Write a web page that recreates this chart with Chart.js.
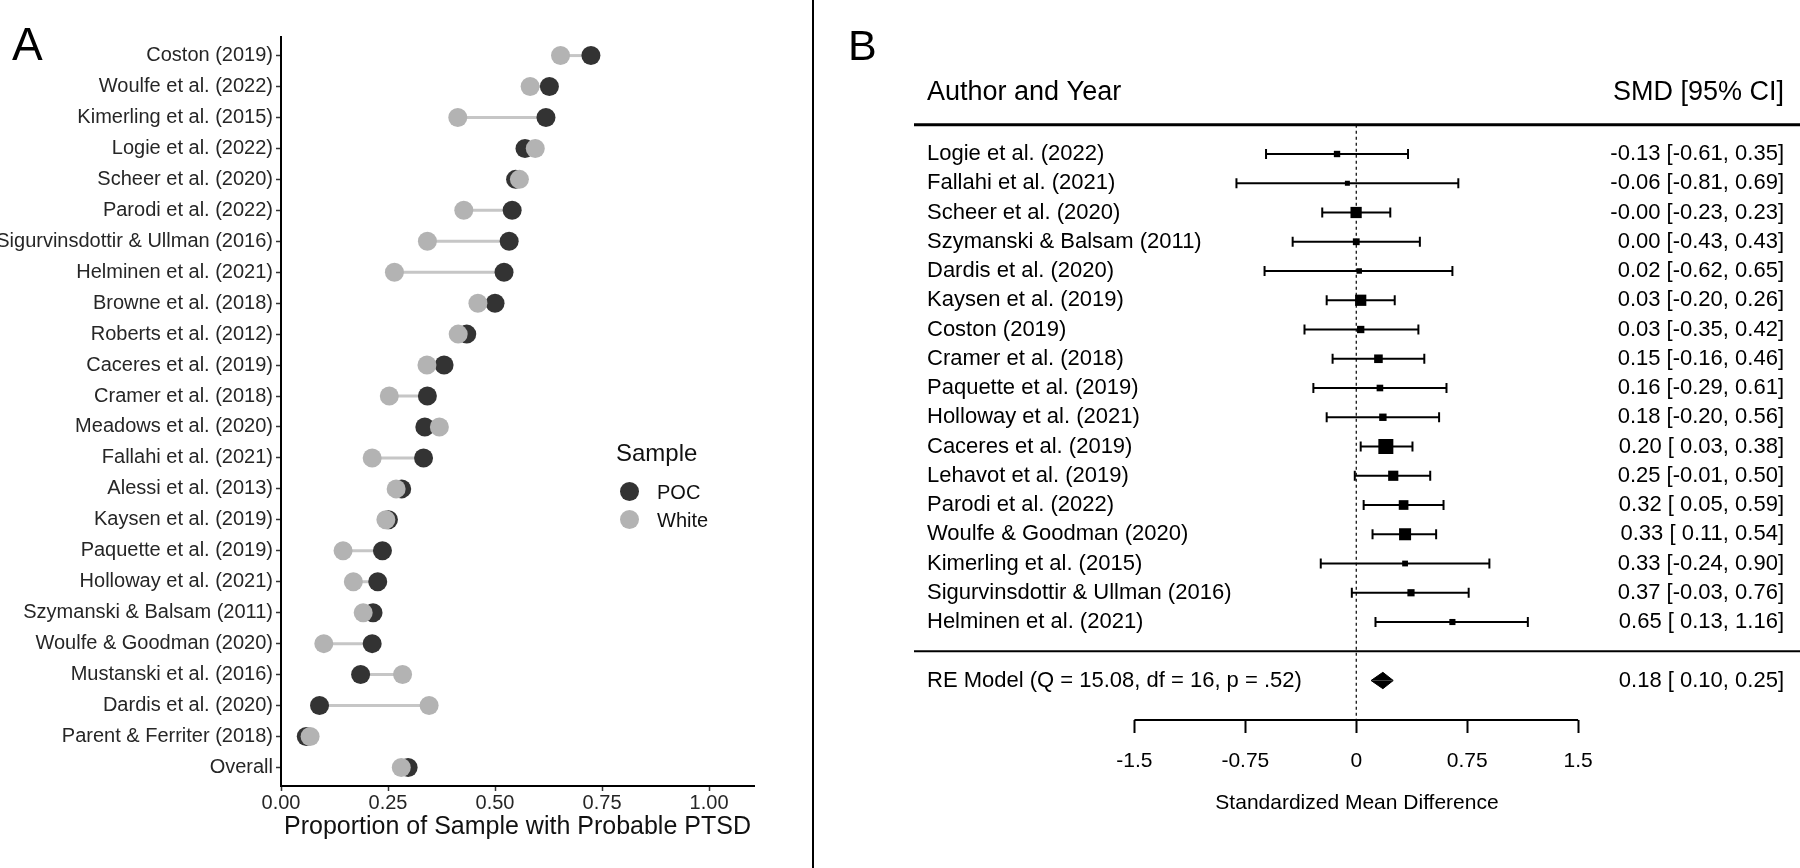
<!DOCTYPE html>
<html>
<head>
<meta charset="utf-8">
<script src="https://cdn.jsdelivr.net/npm/chart.js@4.4.1/dist/chart.umd.min.js"></script>
<style>
  html, body { margin:0; padding:0; background:#fff; width:1800px; height:868px; overflow:hidden; position:relative;
    font-family:'Liberation Sans', Arial, sans-serif; color:#000; }
  #ca { position:absolute; left:0; top:0; }
  #cb { position:absolute; left:816px; top:0; }
  #divider { position:absolute; left:812px; top:0; width:2px; height:868px; background:#000; }
  .panel { position:absolute; font-weight:normal; }
  .legt { position:absolute; font-size:24px; line-height:28px; color:#111; }
  .legl { position:absolute; font-size:20px; line-height:24px; color:#111; }
  .legd { position:absolute; width:19px; height:19px; border-radius:50%; }
</style>
</head>
<body>
<canvas id="ca" width="813" height="868"></canvas>
<canvas id="cb" width="1000" height="868"></canvas>
<div id="divider"></div>
<div class="panel" style="left:12px; top:21px; font-size:46px; line-height:46px;">A</div>
<div class="panel" style="left:848px; top:24px; font-size:43px; line-height:43px;">B</div>
<div class="legt" style="left:616px; top:439px;">Sample</div>
<div class="legd" style="left:620px; top:482px; background:#333333;"></div>
<div class="legl" style="left:657px; top:480px;">POC</div>
<div class="legd" style="left:620px; top:510px; background:#b3b3b3;"></div>
<div class="legl" style="left:657px; top:508px;">White</div>
<script>
// ---------------- Panel A data ----------------
const studiesA = ['Coston (2019)','Woulfe et al. (2022)','Kimerling et al. (2015)','Logie et al. (2022)',
  'Scheer et al. (2020)','Parodi et al. (2022)','Sigurvinsdottir & Ullman (2016)','Helminen et al. (2021)',
  'Browne et al. (2018)','Roberts et al. (2012)','Caceres et al. (2019)','Cramer et al. (2018)',
  'Meadows et al. (2020)','Fallahi et al. (2021)','Alessi et al. (2013)','Kaysen et al. (2019)',
  'Paquette et al. (2019)','Holloway et al. (2021)','Szymanski & Balsam (2011)','Woulfe & Goodman (2020)',
  'Mustanski et al. (2016)','Dardis et al. (2020)','Parent & Ferriter (2018)','Overall'];
const pocA   = [0.724,0.627,0.619,0.570,0.548,0.540,0.533,0.521,0.500,0.434,0.381,0.342,
                0.336,0.333,0.282,0.251,0.237,0.226,0.215,0.213,0.186,0.090,0.059,0.297];
const whiteA = [0.653,0.582,0.413,0.594,0.557,0.427,0.342,0.265,0.460,0.414,0.341,0.253,
                0.370,0.213,0.269,0.245,0.145,0.169,0.192,0.100,0.284,0.346,0.068,0.281];
const ticksA = [0, 0.25, 0.5, 0.75, 1];
const seriesNamesA = ['POC', 'White'];
const xTitleA = 'Proportion of Sample with Probable PTSD';

// ---------------- Panel B data ----------------
const studiesB = ['Logie et al. (2022)','Fallahi et al. (2021)','Scheer et al. (2020)','Szymanski & Balsam (2011)',
  'Dardis et al. (2020)','Kaysen et al. (2019)','Coston (2019)','Cramer et al. (2018)','Paquette et al. (2019)',
  'Holloway et al. (2021)','Caceres et al. (2019)','Lehavot et al. (2019)','Parodi et al. (2022)',
  'Woulfe & Goodman (2020)','Kimerling et al. (2015)','Sigurvinsdottir & Ullman (2016)','Helminen et al. (2021)'];
const smdB   = [-0.13,-0.06,-0.001,0.00,0.02,0.03,0.03,0.15,0.16,0.18,0.20,0.25,0.32,0.33,0.33,0.37,0.65];
const lowerB = [-0.61,-0.81,-0.23,-0.43,-0.62,-0.20,-0.35,-0.16,-0.29,-0.20,0.03,-0.01,0.05,0.11,-0.24,-0.03,0.13];
const upperB = [0.35,0.69,0.23,0.43,0.65,0.26,0.42,0.46,0.61,0.56,0.38,0.50,0.59,0.54,0.90,0.76,1.16];
const ciTextB = ['-0.13 [-0.61, 0.35]','-0.06 [-0.81, 0.69]','-0.00 [-0.23, 0.23]','0.00 [-0.43, 0.43]',
  '0.02 [-0.62, 0.65]','0.03 [-0.20, 0.26]','0.03 [-0.35, 0.42]','0.15 [-0.16, 0.46]','0.16 [-0.29, 0.61]',
  '0.18 [-0.20, 0.56]','0.20 [ 0.03, 0.38]','0.25 [-0.01, 0.50]','0.32 [ 0.05, 0.59]','0.33 [ 0.11, 0.54]',
  '0.33 [-0.24, 0.90]','0.37 [-0.03, 0.76]','0.65 [ 0.13, 1.16]'];
const reLabel = 'RE Model (Q = 15.08, df = 16, p = .52)';
const reEst = 0.18, reLower = 0.10, reUpper = 0.25;
const reText = '0.18 [ 0.10, 0.25]';
const headLeft = 'Author and Year', headRight = 'SMD [95% CI]';
const ticksB = [-1.5, -0.75, 0, 0.75, 1.5];
const xTitleB = 'Standardized Mean Difference';

Chart.defaults.font.family = "'Liberation Sans', Arial, sans-serif";
Chart.defaults.color = '#000';

// ================= Panel A =================
const rowsA = studiesA.map((_, i) => i + 1);
const dsA = [];
dsA.push({ label: seriesNamesA[1], data: whiteA.map((v, i) => ({x: v, y: rowsA[i]})),
  pointRadius: 9.5, pointBackgroundColor: '#b3b3b3', pointBorderWidth: 0, showLine: false });
dsA.push({ label: seriesNamesA[0], data: pocA.map((v, i) => ({x: v, y: rowsA[i]})),
  pointRadius: 9.5, pointBackgroundColor: '#333333', pointBorderWidth: 0, showLine: false });
studiesA.forEach((s, i) => {
  dsA.push({ label: s, data: [{x: pocA[i], y: rowsA[i]}, {x: whiteA[i], y: rowsA[i]}],
    showLine: true, borderColor: '#c6c6c6', borderWidth: 3, pointRadius: 0 });
});

new Chart(document.getElementById('ca'), {
  type: 'scatter',
  data: { datasets: dsA },
  options: {
    responsive: false, animation: false, devicePixelRatio: 1, events: [],
    layout: { padding: { left: 0, top: 37, right: 59, bottom: 0 } },
    plugins: { legend: { display: false }, tooltip: { enabled: false } },
    scales: {
      x: {
        type: 'linear', min: 0, max: 1.105,
        afterBuildTicks: s => { s.ticks = ticksA.map(v => ({value: v})); },
        afterFit: s => { s.height = 82; },
        ticks: { callback: v => Number(v).toFixed(2), font: { size: 20 }, color: '#262626', padding: 0, autoSkip: false, maxRotation: 0 },
        grid: { display: true, drawOnChartArea: false, tickLength: 5, tickColor: '#333', tickWidth: 1.5 },
        border: { display: true, color: '#000', width: 2 },
        title: { display: true, text: xTitleA, font: { size: 25 }, color: '#111', padding: { top: 0, bottom: 26 } }
      },
      y: {
        type: 'linear', reverse: true, min: 0.4, max: 24.6,
        afterBuildTicks: s => { s.ticks = rowsA.map(v => ({value: v})); },
        afterFit: s => { s.width = 281; },
        ticks: { callback: (v, i) => studiesA[i], font: { size: 20 }, color: '#262626', padding: 3, autoSkip: false },
        grid: { display: true, drawOnChartArea: false, tickLength: 5, tickColor: '#333', tickWidth: 1.5 },
        border: { display: true, color: '#000', width: 2 }
      }
    }
  }
});

// ================= Panel B =================
const nB = studiesB.length;
const rowB = studiesB.map((_, i) => nB - i);     // 17 .. 1
const rowRE = -1, rowHead = 19.1, rowTopLine = 18, rowSep = 0;
const yMinB = -2.35, yMaxB = 21, xMinB = -2.99, xMaxB = 3.0;
const tickRowsB = [rowHead, ...rowB, rowRE];
const leftLabels = [headLeft, ...studiesB, reLabel];
const rightLabels = [headRight, ...ciTextB, reText];

// square sizes follow inverse-variance weights derived from the CI widths
const wB = lowerB.map((l, i) => 1 / Math.pow((upperB[i] - l) / 3.92, 2));
const wMin = Math.min(...wB), wMax = Math.max(...wB);
const sideB = wB.map(w => 5 + 10 * Math.pow((w - wMin) / (wMax - wMin), 0.8));

const dsB = [];
dsB.push({ label: 'SMD', data: smdB.map((v, i) => ({x: v, y: rowB[i]})), pointStyle: 'rect',
  pointRadius: sideB.map(s => s / Math.SQRT2), pointBackgroundColor: '#000', pointBorderWidth: 0, showLine: false });
const hDia = 0.28;
dsB.push({ label: 'RE upper', data: [{x: reLower, y: rowRE}, {x: reEst, y: rowRE + hDia}, {x: reUpper, y: rowRE}],
  showLine: true, borderColor: '#000', borderWidth: 1, backgroundColor: '#000', fill: {value: rowRE}, pointRadius: 0, tension: 0 });
dsB.push({ label: 'RE lower', data: [{x: reLower, y: rowRE}, {x: reEst, y: rowRE - hDia}, {x: reUpper, y: rowRE}],
  showLine: true, borderColor: '#000', borderWidth: 1, backgroundColor: '#000', fill: {value: rowRE}, pointRadius: 0, tension: 0 });
studiesB.forEach((s, i) => {
  dsB.push({ label: s, data: [{x: lowerB[i], y: rowB[i]}, {x: upperB[i], y: rowB[i]}], showLine: true,
    borderColor: '#000', borderWidth: 2, pointStyle: 'line', rotation: 90, pointRadius: 5,
    pointBorderColor: '#000', pointBorderWidth: 2, pointBackgroundColor: '#000' });
});
dsB.push({ label: 'zero', data: [{x: 0, y: rowTopLine}, {x: 0, y: yMinB}], showLine: true,
  borderColor: '#000', borderWidth: 1.2, borderDash: [3, 3], pointRadius: 0 });
dsB.push({ label: 'head line', data: [{x: xMinB, y: rowTopLine}, {x: xMaxB, y: rowTopLine}], showLine: true,
  borderColor: '#000', borderWidth: 3, pointRadius: 0 });
dsB.push({ label: 'sep line', data: [{x: xMinB, y: rowSep}, {x: xMaxB, y: rowSep}], showLine: true,
  borderColor: '#000', borderWidth: 2, pointRadius: 0 });
dsB.push({ label: 'axis line', data: [{x: ticksB[0], y: yMinB}, {x: ticksB[ticksB.length - 1], y: yMinB}], showLine: true,
  borderColor: '#000', borderWidth: 2, pointRadius: 0, clip: false });

const yTickFont = ctx => (ctx.index === 0 ? { size: 27 } : { size: 22 });

new Chart(document.getElementById('cb'), {
  type: 'scatter',
  data: { datasets: dsB },
  options: {
    responsive: false, animation: false, devicePixelRatio: 1, events: [],
    layout: { padding: { left: 85, top: 37, right: 0, bottom: 0 } },
    plugins: { legend: { display: false }, tooltip: { enabled: false } },
    scales: {
      x: {
        type: 'linear', min: xMinB, max: xMaxB,
        afterBuildTicks: s => { s.ticks = ticksB.map(v => ({value: v})); },
        afterFit: s => { s.height = 148; },
        ticks: { callback: v => String(v), font: { size: 21 }, color: '#000', padding: 16, autoSkip: false, maxRotation: 0 },
        grid: { display: true, drawOnChartArea: false, tickLength: 13, tickColor: '#000', tickWidth: 2 },
        border: { display: false },
        title: { display: true, text: xTitleB, font: { size: 21 }, color: '#000', padding: { top: 0, bottom: 52 } }
      },
      y: {
        type: 'linear', position: 'left', min: yMinB, max: yMaxB,
        afterBuildTicks: s => { s.ticks = tickRowsB.map(v => ({value: v})); },
        afterFit: s => { s.width = 13; },
        ticks: { mirror: true, padding: 13, callback: (v, i) => leftLabels[i], font: yTickFont, color: '#000', autoSkip: false },
        grid: { display: false }, border: { display: false }
      },
      y2: {
        type: 'linear', position: 'right', min: yMinB, max: yMaxB,
        afterBuildTicks: s => { s.ticks = tickRowsB.map(v => ({value: v})); },
        afterFit: s => { s.width = 16; },
        ticks: { mirror: true, padding: -16, callback: (v, i) => rightLabels[i], font: yTickFont, color: '#000', autoSkip: false },
        grid: { display: false }, border: { display: false }
      }
    }
  }
});
</script>
</body>
</html>
